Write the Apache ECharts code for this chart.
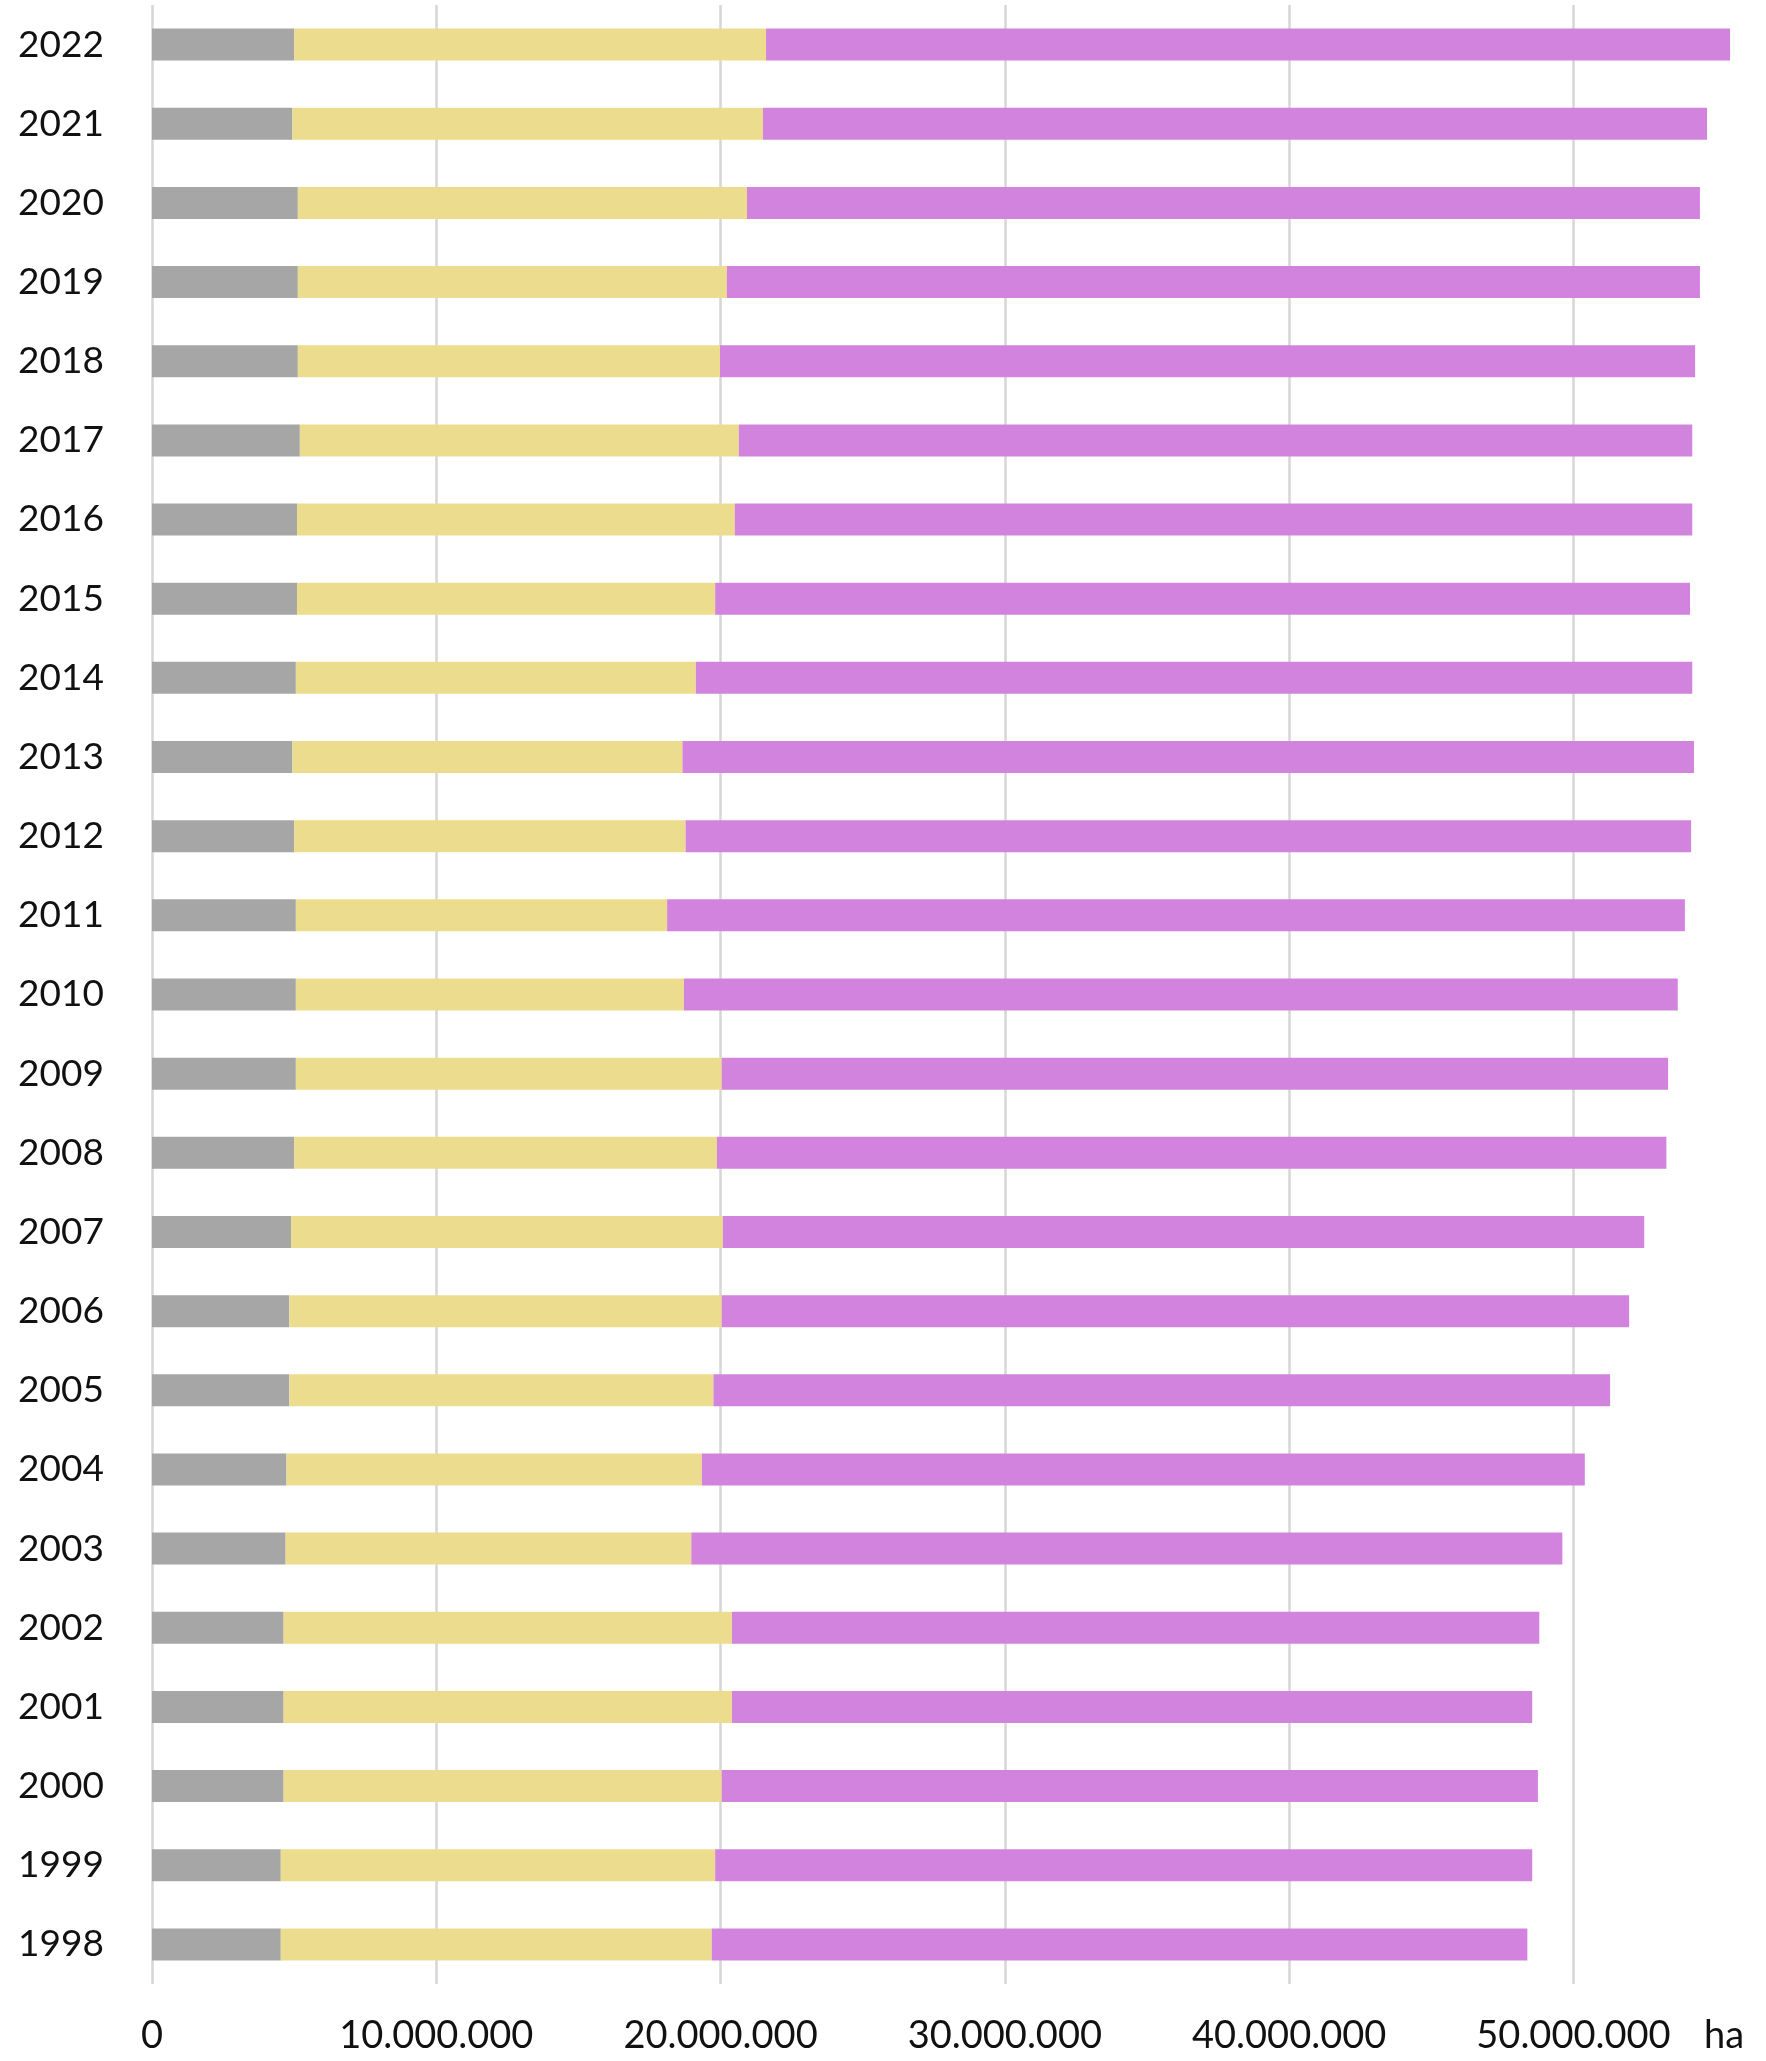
<!DOCTYPE html>
<html>
<head>
<meta charset="utf-8">
<script src="https://cdn.jsdelivr.net/npm/echarts@6/dist/echarts.min.js"></script>
<style>
  html, body { margin: 0; padding: 0; background: #ffffff; }
  #chart { width: 1766px; height: 2061px; }
</style>
</head>
<body>
<div id="chart"></div>
<script>
// Categories (bottom to top)
const years = ['1998','1999','2000','2001','2002','2003','2004','2005','2006','2007','2008','2009','2010','2011','2012','2013','2014','2015','2016','2017','2018','2019','2020','2021','2022'];

// Segment values in hectares (1998 .. 2022)
const grayValues = [4530000,4530000,4630000,4630000,4630000,4700000,4730000,4830000,4830000,4890000,5000000,5060000,5060000,5060000,5000000,4940000,5060000,5100000,5100000,5200000,5130000,5130000,5130000,4940000,5000000];
const yellowValues = [15160000,15280000,15410000,15770000,15770000,14270000,14610000,14920000,15210000,15190000,14870000,14980000,13650000,13060000,13770000,13720000,14070000,14710000,15400000,15440000,14850000,15090000,15800000,16550000,16600000];
const purpleValues = [28690000,28740000,28710000,28150000,28400000,30640000,31060000,31540000,31920000,32410000,33400000,33290000,34960000,35800000,35370000,35580000,35050000,34290000,33680000,33540000,34300000,34230000,33520000,33210000,33910000];

// Axis ticks
const xMin = 0;
const xMax = 56000000;
const xInterval = 10000000;
const unitLabel = 'ha';

function fmt(v) {
  return String(v).replace(/\B(?=(\d{3})+(?!\d))/g, '.');
}

const chart = echarts.init(document.getElementById('chart'), null, { renderer: 'canvas' });
const FONT = 'Lato';
const barW = 32;

chart.setOption({
  backgroundColor: '#ffffff',
  animation: false,
  grid: { left: 152, right: 22, top: 5, bottom: 77, containLabel: false },
  xAxis: {
    type: 'value',
    min: xMin,
    max: xMax,
    interval: xInterval,
    name: unitLabel,
    nameLocation: 'end',
    nameGap: -40,
    nameTextStyle: {
      fontFamily: FONT, fontSize: 38, color: '#111111',
      align: 'left', verticalAlign: 'top', padding: [33, 0, 0, 0]
    },
    axisLine: { show: false },
    axisTick: { show: false },
    axisLabel: {
      margin: 33,
      fontFamily: FONT, fontSize: 38, color: '#111111',
      showMaxLabel: false,
      formatter: function (v) { return (v % xInterval === 0) ? fmt(v) : ''; }
    },
    splitLine: { show: true, showMaxLine: false, lineStyle: { color: '#d6d6d6', width: 2.5 } }
  },
  yAxis: {
    type: 'category',
    data: years,
    axisLine: { show: false },
    axisTick: { show: false },
    splitLine: { show: false },
    axisLabel: {
      align: 'left',
      margin: 134,
      fontFamily: FONT, fontSize: 37, color: '#111111'
    }
  },
  series: [
    { name: 'A', type: 'bar', stack: 'total', data: grayValues, barWidth: barW, itemStyle: { color: '#a6a6a6' } },
    { name: 'B', type: 'bar', stack: 'total', data: yellowValues, barWidth: barW, itemStyle: { color: '#ecdd8e' } },
    { name: 'C', type: 'bar', stack: 'total', data: purpleValues, barWidth: barW, itemStyle: { color: '#d183de' } }
  ]
});
</script>
</body>
</html>
